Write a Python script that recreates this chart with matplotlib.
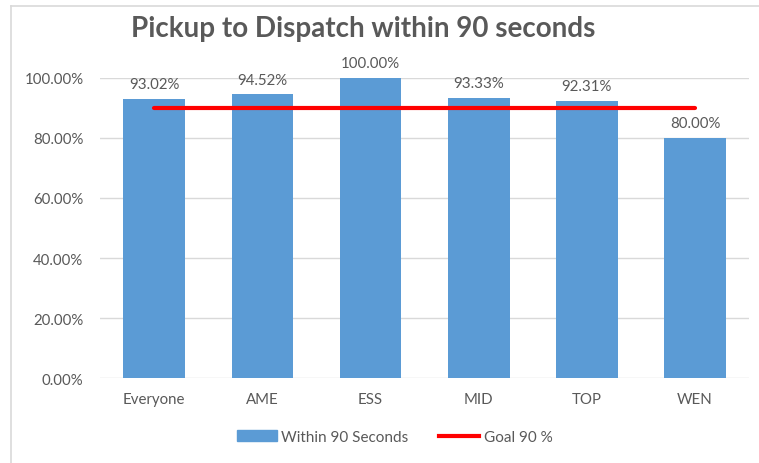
import matplotlib.pyplot as plt
from matplotlib.lines import Line2D
from matplotlib.patches import Patch
from matplotlib.ticker import FuncFormatter

plt.rcParams['font.family'] = ['Lato', 'DejaVu Sans']

categories = ['Everyone', 'AME', 'ESS', 'MID', 'TOP', 'WEN']
within_90 = [0.9302, 0.9452, 1.0, 0.9333, 0.9231, 0.80]
goal = [0.90] * len(categories)

text_col = '#595959'
bar_col = '#5B9BD5'

fig = plt.figure(figsize=(7.59, 4.64), dpi=100)
ax = fig.add_axes([0.132, 0.183, 0.855, 0.647])

x = list(range(len(categories)))
ax.bar(x, within_90, width=0.57, color=bar_col, zorder=2)
ax.plot(x, goal, color='#FF0000', linewidth=3, solid_capstyle='round', zorder=3)

for xi, v in zip(x, within_90):
    ax.text(xi, v + 0.025, f'{v * 100:.2f}%', ha='center', va='bottom',
            fontsize=10.8, color=text_col)

ax.set_xlim(-0.5, len(categories) - 0.5)
ax.set_ylim(0, 1.0)
ax.set_yticks([0, 0.2, 0.4, 0.6, 0.8, 1.0])
ax.yaxis.set_major_formatter(FuncFormatter(lambda v, p: f'{v * 100:.2f}%'))
ax.set_xticks(x)
ax.set_xticklabels(categories)
ax.tick_params(axis='both', length=0, labelsize=10.8, labelcolor=text_col)
ax.tick_params(axis='x', pad=10)
ax.tick_params(axis='y', pad=12)
ax.grid(axis='y', color='#D9D9D9', linewidth=1, zorder=0)
ax.set_axisbelow(True)
for s in ax.spines.values():
    s.set_visible(False)

fig.text(0.4785, 0.938, 'Pickup to Dispatch within 90 seconds', ha='center', va='center',
         fontsize=20, fontweight='bold', color=text_col)

handles = [Patch(color=bar_col), Line2D([0], [0], color='#FF0000', linewidth=3)]
fig.legend(handles, ['Within 90 Seconds', 'Goal 90 %'], loc='center',
           bbox_to_anchor=(0.52, 0.056), ncol=2, frameon=False, fontsize=11,
           labelcolor=text_col, handlelength=2.6, handletextpad=0.3, columnspacing=2.0)

# outer chart frame
fig.add_artist(Line2D([0.0145, 0.0145], [0.0, 0.985], color='#D9D9D9', linewidth=1.2))
fig.add_artist(Line2D([0.0145, 1.0], [0.985, 0.985], color='#D9D9D9', linewidth=1.2))

fig.savefig('out.png', dpi=100)
